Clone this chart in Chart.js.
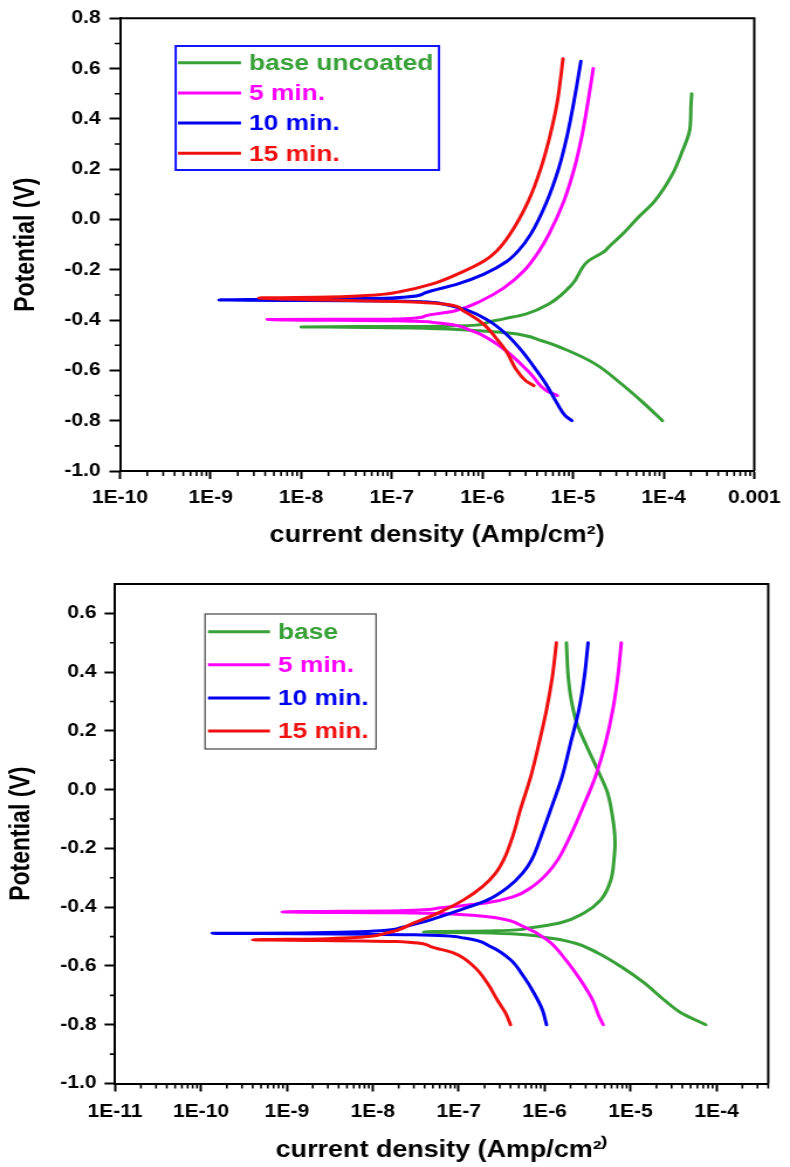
<!DOCTYPE html>
<html>
<head>
<meta charset="utf-8">
<script src="https://cdn.jsdelivr.net/npm/chart.js@4.4.1/dist/chart.umd.min.js"></script>
<style>
  html, body { margin: 0; padding: 0; background: #fff; }
  canvas { display: block; }
</style>
</head>
<body>
<!-- the figure is wider than tall in its text, so each canvas is drawn at 675px and stretched to 790px -->
<canvas id="top" width="675" height="560" style="width:790px;height:560px"></canvas>
<canvas id="bottom" width="675" height="607" style="width:790px;height:607px"></canvas>
<script>
// ---- data: potential (V) and current density (A/cm2), in scan order ----
const seriesLabelsTop = ['base uncoated', '5 min.', '10 min.', '15 min.'];
const seriesLabelsBottom = ['base', '5 min.', '10 min.', '15 min.'];
const seriesColors = ['#37a037', '#ff00ff', '#0000f0', '#f01010'];

const topBaseE = [-0.800, -0.732, -0.653, -0.574, -0.522, -0.483, -0.451, -0.439, -0.431, -0.428, -0.427, -0.425, -0.420, -0.411, -0.396, -0.376, -0.336, -0.257, -0.166, -0.126, -0.114, -0.059, 0.004, 0.072, 0.178, 0.270, 0.361, 0.448, 0.500];
const topBaseI = [9.7e-5, 6.1e-5, 3.4e-5, 1.75e-5, 8.9e-6, 4.6e-6, 1.96e-6, 6.6e-7, 1.6e-7, 3e-8, 1.0e-8, 1.5e-7, 8.5e-7, 1.1e-6, 1.68e-6, 3.0e-6, 5.4e-6, 9.8e-6, 1.46e-5, 2.24e-5, 2.4e-5, 3.5e-5, 5.1e-5, 7.9e-5, 1.24e-4, 1.6e-4, 1.95e-4, 2.0e-4, 2.04e-4];

const topMin5E = [-0.700, -0.681, -0.613, -0.534, -0.483, -0.443, -0.411, -0.403, -0.398, -0.396, -0.384, -0.364, -0.324, -0.273, -0.206, -0.126, -0.059, 0.072, 0.202, 0.337, 0.467, 0.600];
const topMin5I = [6.7e-6, 5.1e-6, 3.4e-6, 2.0e-6, 1.28e-6, 7.7e-7, 3.1e-7, 1.14e-7, 4.2e-9, 1.0e-7, 2.3e-7, 4.9e-7, 9.6e-7, 1.71e-6, 2.84e-6, 4.2e-6, 5.4e-6, 7.9e-6, 1.03e-5, 1.26e-5, 1.46e-5, 1.67e-5];

const topMin10E = [-0.800, -0.780, -0.732, -0.653, -0.590, -0.522, -0.455, -0.403, -0.364, -0.336, -0.324, -0.320, -0.312, -0.293, -0.257, -0.217, -0.166, -0.126, -0.059, 0.072, 0.202, 0.337, 0.467, 0.629];
const topMin10I = [9.7e-6, 8.2e-6, 6.7e-6, 5.0e-6, 3.77e-6, 2.72e-6, 1.82e-6, 1.18e-6, 7.2e-7, 3.7e-7, 1.14e-7, 1.24e-9, 1.0e-7, 2.28e-7, 5.27e-7, 1.04e-6, 1.87e-6, 2.47e-6, 3.4e-6, 5.14e-6, 6.93e-6, 8.65e-6, 1.02e-5, 1.22e-5];

const topMin15E = [-0.661, -0.641, -0.590, -0.522, -0.471, -0.415, -0.364, -0.336, -0.326, -0.320, -0.312, -0.308, -0.300, -0.285, -0.257, -0.217, -0.166, -0.126, -0.059, 0.072, 0.202, 0.337, 0.467, 0.639];
const topMin15I = [3.7e-6, 3.0e-6, 2.3e-6, 1.82e-6, 1.41e-6, 1.02e-6, 6.2e-7, 3.7e-7, 1.14e-7, 2.0e-8, 3.4e-9, 2.0e-8, 6.6e-8, 1.3e-7, 2.75e-7, 5.3e-7, 1.03e-6, 1.43e-6, 2.01e-6, 3.2e-6, 4.4e-6, 5.6e-6, 6.7e-6, 7.75e-6];

const botBaseE = [-0.800, -0.759, -0.715, -0.657, -0.602, -0.555, -0.521, -0.504, -0.487, -0.484, -0.480, -0.470, -0.453, -0.419, -0.375, -0.307, -0.239, -0.180, -0.126, -0.011, 0.057, 0.147, 0.227, 0.305, 0.385, 0.500];
const botBaseI = [7.5e-5, 3.85e-5, 2.44e-5, 1.43e-5, 7.7e-6, 4.1e-6, 2.18e-6, 1.07e-6, 1.8e-7, 3.9e-8, 2.8e-7, 6.9e-7, 1.53e-6, 2.9e-6, 4.5e-6, 5.9e-6, 6.4e-6, 6.6e-6, 6.4e-6, 5.4e-6, 4.3e-6, 3.09e-6, 2.36e-6, 2.04e-6, 1.88e-6, 1.79e-6];

const botMin5E = [-0.800, -0.772, -0.715, -0.647, -0.579, -0.511, -0.466, -0.437, -0.426, -0.419, -0.416, -0.412, -0.402, -0.386, -0.364, -0.330, -0.284, -0.239, -0.154, -0.069, 0.045, 0.158, 0.271, 0.385, 0.500];
const botMin5I = [4.8e-6, 4.3e-6, 3.6e-6, 2.6e-6, 1.76e-6, 1.07e-6, 5.7e-7, 2.8e-7, 1.14e-7, 2.1e-8, 8.8e-10, 2.1e-8, 6.1e-8, 2.05e-7, 4.35e-7, 7.2e-7, 1.08e-6, 1.42e-6, 2.01e-6, 2.7e-6, 3.9e-6, 5.1e-6, 6.2e-6, 7.1e-6, 7.8e-6];

const botMin10E = [-0.800, -0.749, -0.692, -0.636, -0.579, -0.534, -0.505, -0.494, -0.490, -0.489, -0.488, -0.470, -0.443, -0.409, -0.375, -0.330, -0.284, -0.239, -0.154, -0.069, 0.045, 0.158, 0.271, 0.385, 0.500];
const botMin10I = [1.05e-6, 9.4e-7, 7.5e-7, 5.7e-7, 4.0e-7, 2.35e-7, 1.15e-7, 3.0e-8, 1.43e-9, 1.35e-10, 1.43e-9, 2.1e-8, 4.7e-8, 1.05e-7, 2.17e-7, 3.8e-7, 5.54e-7, 7.05e-7, 9.2e-7, 1.17e-6, 1.6e-6, 2.0e-6, 2.5e-6, 2.9e-6, 3.2e-6];

const botMin15E = [-0.800, -0.760, -0.715, -0.658, -0.602, -0.556, -0.534, -0.517, -0.513, -0.511, -0.508, -0.487, -0.454, -0.420, -0.375, -0.330, -0.284, -0.239, -0.154, -0.069, 0.045, 0.158, 0.271, 0.385, 0.500];
const botMin15I = [4.0e-7, 3.5e-7, 2.8e-7, 2.15e-7, 1.5e-7, 8.8e-8, 4.7e-8, 1.9e-8, 2.4e-9, 4.0e-10, 2.4e-9, 1.48e-8, 2.97e-8, 5.7e-8, 1.14e-7, 1.89e-7, 2.69e-7, 3.33e-7, 4.3e-7, 5.2e-7, 6.9e-7, 8.6e-7, 1.05e-6, 1.23e-6, 1.37e-6];

// ---- ticks ----
const topXTicks = [1e-10, 1e-9, 1e-8, 1e-7, 1e-6, 1e-5, 1e-4, 1e-3];
const topXLabels = ['1E-10', '1E-9', '1E-8', '1E-7', '1E-6', '1E-5', '1E-4', '0.001'];
const topYTicks = [-1.0, -0.8, -0.6, -0.4, -0.2, 0.0, 0.2, 0.4, 0.6, 0.8];
const botXTicks = [1e-11, 1e-10, 1e-9, 1e-8, 1e-7, 1e-6, 1e-5, 1e-4];
const botXLabels = ['1E-11', '1E-10', '1E-9', '1E-8', '1E-7', '1E-6', '1E-5', '1E-4'];
const botYTicks = [-1.0, -0.8, -0.6, -0.4, -0.2, 0.0, 0.2, 0.4, 0.6];

const FONT = "'Liberation Sans', Arial, sans-serif";
Chart.defaults.font.family = FONT;
Chart.defaults.color = '#000';

function toPoints(E, I) {
    return E.map((e, i) => ({ x: I[i], y: e }));
}

function makeDatasets(labels, pairs) {
    // later series sit on top (red over blue over magenta over green)
    return pairs.map((p, i) => ({
        label: labels[i],
        data: toPoints(p[0], p[1]),
        borderColor: seriesColors[i],
        backgroundColor: seriesColors[i],
        borderWidth: 3,
        fill: false,
        cubicInterpolationMode: 'monotone',
        pointRadius: 0,
        borderCapStyle: 'round',
        borderJoinStyle: 'round',
        order: pairs.length - i,
    }));
}

// frame on top/right, minor ticks, and the boxed legend inside the plot
const framePlugin = {
    id: 'frame',
    afterDraw(chart, args, opts) {
        const { ctx, chartArea: a, scales: { x, y } } = chart;
        ctx.save();
        ctx.strokeStyle = '#000';
        ctx.lineWidth = 2;
        ctx.beginPath();
        ctx.moveTo(a.left, a.top);
        ctx.lineTo(a.right, a.top);
        ctx.lineTo(a.right, a.bottom);
        ctx.stroke();

        // minor ticks: 2..9 per decade on x, every 0.1 on y
        ctx.lineWidth = 1.6;
        ctx.beginPath();
        const e0 = Math.floor(Math.log10(x.min)), e1 = Math.ceil(Math.log10(x.max));
        for (let e = e0; e <= e1; e++) {
            for (let m = 2; m <= 9; m++) {
                const v = m * Math.pow(10, e);
                if (v < x.min || v > x.max) continue;
                const px = x.getPixelForValue(v);
                ctx.moveTo(px, a.bottom);
                ctx.lineTo(px, a.bottom + 5);
            }
        }
        for (let k = Math.ceil(y.min * 10); k < Math.round(y.max * 10); k++) {
            if (Math.abs(k) % 2 === 0) continue;
            const py = y.getPixelForValue(k / 10);
            ctx.moveTo(a.left - 4.5, py);
            ctx.lineTo(a.left, py);
        }
        ctx.stroke();

        const leg = opts.legend;
        if (leg) {
            ctx.strokeStyle = leg.borderColor;
            ctx.lineWidth = leg.borderWidth;
            ctx.strokeRect(leg.left, leg.top, leg.width, leg.height);
            ctx.font = 'bold ' + leg.fontSize + 'px ' + FONT;
            ctx.textBaseline = 'middle';
            ctx.textAlign = 'left';
            chart.data.datasets.forEach((ds, i) => {
                const yy = leg.firstRow + i * leg.rowGap;
                ctx.strokeStyle = ds.borderColor;
                ctx.lineWidth = 3;
                ctx.beginPath();
                ctx.moveTo(leg.lineFrom, yy);
                ctx.lineTo(leg.lineTo, yy);
                ctx.stroke();
                ctx.fillStyle = ds.borderColor;
                ctx.fillText(ds.label, leg.textX, yy + 1);
            });
        }
        ctx.restore();
    }
};

function makeChart(id, o) {
    return new Chart(document.getElementById(id), {
        type: 'line',
        data: { datasets: o.datasets },
        plugins: [framePlugin],
        options: {
            // potential is the scan variable, so curves are smoothed along y
            indexAxis: 'y',
            responsive: false,
            animation: false,
            layout: { padding: o.padding },
            plugins: {
                legend: { display: false },
                tooltip: { enabled: false },
                frame: { legend: o.legend },
            },
            scales: {
                x: {
                    type: 'logarithmic',
                    min: o.xMin,
                    max: o.xMax,
                    afterBuildTicks: s => { s.ticks = o.xTicks.map(v => ({ value: v })); },
                    afterFit: s => { s.height = o.xHeight; },
                    border: { display: true, color: '#000', width: 2 },
                    grid: { display: true, drawOnChartArea: false, drawTicks: true, tickLength: 8, tickColor: '#000', tickWidth: 2 },
                    ticks: {
                        autoSkip: false,
                        maxRotation: 0,
                        padding: o.xTickPad,
                        font: { size: 18, weight: 'bold' },
                        callback: (v, i) => o.xLabels[i],
                    },
                    title: {
                        display: true,
                        text: o.xTitle,
                        font: { size: 23, weight: 'bold' },
                        padding: { top: 0, bottom: o.xTitlePad },
                    },
                },
                y: {
                    type: 'linear',
                    min: o.yMin,
                    max: o.yMax,
                    afterBuildTicks: s => { s.ticks = o.yTicks.map(v => ({ value: v })); },
                    afterFit: s => { s.width = o.yWidth; },
                    border: { display: true, color: '#000', width: 2 },
                    grid: { display: true, drawOnChartArea: false, drawTicks: true, tickLength: 9, tickColor: '#000', tickWidth: 2 },
                    ticks: {
                        padding: o.yTickPad,
                        font: { size: 18, weight: 'bold' },
                        callback: v => Number(v).toFixed(1),
                    },
                    title: {
                        display: true,
                        text: 'Potential (V)',
                        font: { size: 23, weight: 'bold' },
                        padding: { top: o.yTitlePad, bottom: 0 },
                    },
                },
            },
        },
    });
}

makeChart('top', {
    datasets: makeDatasets(seriesLabelsTop, [
        [topBaseE, topBaseI], [topMin5E, topMin5I], [topMin10E, topMin10I], [topMin15E, topMin15I],
    ]),
    padding: { top: 16, right: 24.8, left: 0, bottom: 0 },
    xMin: 1e-10, xMax: 1e-3, xTicks: topXTicks, xLabels: topXLabels,
    yMin: -1.0, yMax: 0.8, yTicks: topYTicks,
    xHeight: 89, yWidth: 102.5,
    xTickPad: 8, yTickPad: 7.5, xTitlePad: 11, yTitlePad: 9,
    xTitle: 'current density (Amp/cm²)',
    legend: {
        left: 150.1, top: 46, width: 225, height: 124,
        borderColor: '#1414ff', borderWidth: 2,
        firstRow: 62.7, rowGap: 30.2,
        lineFrom: 152.1, lineTo: 205.9, textX: 212.8, fontSize: 22.5,
    },
});

makeChart('bottom', {
    datasets: makeDatasets(seriesLabelsBottom, [
        [botBaseE, botBaseI], [botMin5E, botMin5I], [botMin10E, botMin10I], [botMin15E, botMin15I],
    ]),
    padding: { top: 24, right: 18.6, left: 0, bottom: 0 },
    xMin: 1e-11, xMax: 4e-4, xTicks: botXTicks, xLabels: botXLabels,
    yMin: -1.0, yMax: 0.7, yTicks: botYTicks,
    xHeight: 83.5, yWidth: 98.3,
    xTickPad: 10, yTickPad: 6.7, xTitlePad: 3, yTitlePad: 5,
    xTitle: 'current density (Amp/cm²⁾',
    legend: {
        left: 175.2, top: 54, width: 146.1, height: 135,
        borderColor: '#444444', borderWidth: 1.2,
        firstRow: 71.7, rowGap: 33.1,
        lineFrom: 177.7, lineTo: 230.7, textX: 237.5, fontSize: 22.5,
    },
});
</script>
</body>
</html>
